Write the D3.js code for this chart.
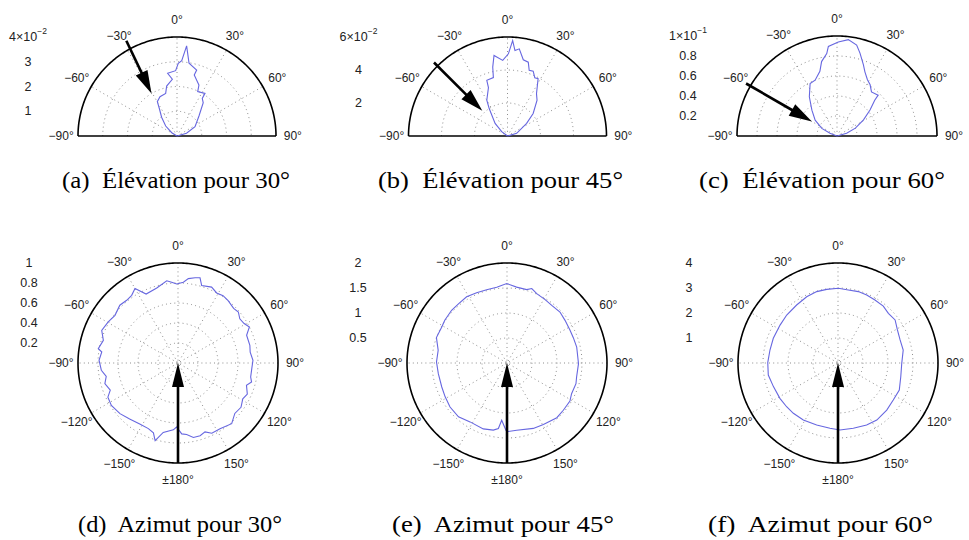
<!DOCTYPE html>
<html><head><meta charset="utf-8">
<script src="https://cdn.jsdelivr.net/npm/d3@7"></script>
<style>body{margin:0;background:#fff}</style>
</head><body>
<svg id="chart" width="969" height="540"></svg>
<script>
// ---------------- DATA ----------------
const captions = ["(a)  Élévation pour 30°", "(b)  Élévation pour 45°", "(c)  Élévation pour 60°",
                  "(d)  Azimut pour 30°", "(e)  Azimut pour 45°", "(f)  Azimut pour 60°"];

// radial tick values (last = rim) and exponents for elevation plots
const ticksA = [1, 2, 3, 4];
const ticksB = [2, 4, 6];
const ticksC = [0.2, 0.4, 0.6, 0.8, 1];
const ticksD = [0.2, 0.4, 0.6, 0.8, 1];
const ticksE = [0.5, 1, 1.5, 2];
const ticksF = [1, 2, 3, 4];
const expA = "−2", expB = "−2", expC = "−1";

const elevAngleTicks = [-90, -60, -30, 0, 30, 60, 90];
const elevAngleLabels = ["−90°", "−60°", "−30°", "0°", "30°", "60°", "90°"];
const azimAngleTicks = [0, 30, 60, 90, 120, 150, 180, -150, -120, -90, -60, -30];
const azimAngleLabels = ["0°", "30°", "60°", "90°", "120°", "150°", "±180°", "−150°", "−120°", "−90°", "−60°", "−30°"];

// incidence arrows (deg)
const elevArrowAngles = [-30, -45, -60];

// (a) elevation 30°  (values ×10^-2)
const aAngles = [-90,-58,-48.5,-39.4,-32.6,-29.8,-23.4,-14.9,-11.7,-4.7,-8.5,-1.2,1,3.6,6.1,9.4,16.6,15.8,23.3,25,33.3,33.9,38.3,47.7,62.7,74,90];
const aValues = [0,0.25,0.61,0.98,1.33,1.60,1.73,1.78,2.06,2.30,2.56,2.64,2.94,3.05,3.66,2.98,2.78,2.56,2.24,1.98,2.06,1.83,1.71,1.20,0.82,0.40,0];
// (b) elevation 45°  (values ×10^-2)
const bAngles = [-90,-53,-44.5,-33.7,-30,-21.5,-20.4,-13.6,-12.1,-9.5,-3.6,0.6,3.1,5,7.7,11.7,15.7,18.3,21.6,25.1,28.1,34.4,39.6,48.7,56.5,73.6,90];
const bValues = [0,0.44,1.07,2.0,2.51,3.15,3.60,3.64,4.27,4.95,4.59,4.98,5.79,5.2,5.33,4.72,4.65,4.19,4.23,3.90,3.94,3.11,2.81,2.07,1.39,0.58,0];
// (c) elevation 60°  (values ×10^-1)
const cAngles = [-90,-69,-63.3,-54,-44.2,-35.2,-27.1,-21.4,-14.8,-11.7,-7.1,-5.5,0.8,6.7,12.2,15.5,20.3,23.5,28.4,32.9,38,45.2,46.5,51.8,58.7,66.8,74.4,90];
const cValues = [0,0.075,0.17,0.27,0.36,0.48,0.59,0.60,0.67,0.76,0.83,0.90,0.94,0.97,0.93,0.86,0.76,0.70,0.64,0.61,0.56,0.58,0.52,0.42,0.31,0.20,0.10,0];
// (d) azimuth 30°
const dAngles = [-178.8,-176,-168,-163.6,-160.6,-155.7,-147.9,-139.2,-131.1,-122.5,-116,-111.9,-105.8,-100.6,-95.4,-88,-81.8,-79.8,-73.1,-66.8,-59.5,-52.9,-45.2,-39.3,-34.4,-30,-24.8,-15.8,-7.8,-4.5,-1,3.8,7,11.3,14.5,17,23.9,28.9,33.8,38.8,45.5,49.8,54.4,59.2,63.2,68,76.2,81.4,88,94.4,100.9,104.5,108,114.2,118.9,125.1,131.6,138.5,147.4,154.3,158.6,163.1,168.3,173.1,177];
const dValues = [0.64,0.67,0.71,0.81,0.74,0.72,0.72,0.74,0.77,0.79,0.78,0.73,0.76,0.73,0.77,0.79,0.77,0.81,0.78,0.83,0.81,0.79,0.82,0.81,0.82,0.86,0.76,0.78,0.83,0.81,0.79,0.81,0.85,0.87,0.88,0.81,0.83,0.80,0.81,0.80,0.78,0.79,0.76,0.77,0.80,0.74,0.74,0.73,0.75,0.74,0.74,0.76,0.72,0.76,0.74,0.77,0.76,0.81,0.78,0.78,0.74,0.76,0.76,0.72,0.71];
// (e) azimuth 45°
const eAngles = [-179.2,-174.7,-172.5,-168.5,-160.2,-147.9,-138,-127.7,-118.7,-110.2,-98.8,-89.2,-79.5,-70.2,-61.1,-55.5,-46.4,-39.4,-31.4,-23.4,-15.5,-7.7,-0.2,7.2,15,18.4,23.2,31,37.8,46.1,53.7,62.6,69.1,77.1,90.5,101.4,106.7,115.4,121.1,130,137.7,149.4,158.1,171.8,178.9];
const eValues = [1.35,1.15,1.32,1.37,1.40,1.39,1.45,1.44,1.41,1.39,1.39,1.41,1.40,1.50,1.49,1.51,1.53,1.53,1.55,1.53,1.52,1.53,1.59,1.53,1.52,1.57,1.51,1.48,1.46,1.47,1.44,1.42,1.42,1.43,1.43,1.42,1.44,1.43,1.47,1.47,1.48,1.43,1.41,1.36,1.37];
// (f) azimuth 60°
const fAngles = [-173,-161,-148.7,-138.4,-130.4,-121.3,-110.1,-99.8,-89.7,-79.2,-69.1,-56.8,-46.9,-35.5,-25.3,-16.6,-8.7,0.3,8,15.9,22.9,30.4,38.5,45.4,53,60.9,69.6,78.7,90.3,102.3,113.8,123.8,134,145.8,155.2,166.8,178.3];
const fValues = [2.63,2.62,2.67,2.69,2.70,2.72,2.75,2.83,2.81,2.77,2.77,2.77,2.81,2.85,2.93,2.98,2.98,2.99,2.95,2.97,2.95,2.92,2.91,2.83,2.86,2.72,2.65,2.66,2.55,2.57,2.68,2.66,2.71,2.76,2.73,2.68,2.68];

// ---------------- LAYOUT ----------------
const panels = [
  {type:"elev", cx:177,   cy:136, R:99,  ticks:ticksA, exp:expA, ang:aAngles, val:aValues, arrow:elevArrowAngles[0], a0:1.09, a1:0.50, da:[2,-1]},
  {type:"elev", cx:507.5, cy:136, R:99,  ticks:ticksB, exp:expB, ang:bAngles, val:bValues, arrow:elevArrowAngles[1], a0:1.05, a1:0.36, da:[0,0]},
  {type:"elev", cx:837,   cy:136, R:100, ticks:ticksC, exp:expC, ang:cAngles, val:cValues, arrow:elevArrowAngles[2], a0:1.05, a1:0.29, da:[0,0]},
  {type:"azim", cx:178,   cy:363, R:100, ticks:ticksD, ang:dAngles, val:dValues},
  {type:"azim", cx:507,   cy:363, R:100, ticks:ticksE, ang:eAngles, val:eValues},
  {type:"azim", cx:838,   cy:363, R:100, ticks:ticksF, ang:fAngles, val:fValues}
];
// caption [left x, baseline y, width]
const captionPos = [[62,188,228],[378,188,245],[699,188,246],[78,532,204],[392,532,222],[708,532,225]];

const svg = d3.select("#chart");
svg.append("rect").attr("width",969).attr("height",540).attr("fill","#fff");
const deg = d3.scaleLinear().domain([-180,180]).range([-Math.PI, Math.PI]);
const CURVE = "#6767e0";
const GRID = "#6a6a6a";

function polar(a, rr){ const t = deg(a); return [rr*Math.sin(t), -rr*Math.cos(t)]; }

function arrow(g, p0, p1, L, W, sw){
  const dx = p1[0]-p0[0], dy = p1[1]-p0[1], len = Math.hypot(dx,dy);
  const ux = dx/len, uy = dy/len, nx = -uy, ny = ux;
  const bx = p1[0]-ux*L, by = p1[1]-uy*L;
  g.append("line").attr("x1",p0[0]).attr("y1",p0[1]).attr("x2",bx+ux*2).attr("y2",by+uy*2)
    .attr("stroke","#000").attr("stroke-width",sw);
  g.append("path").attr("d",`M${p1[0]},${p1[1]}L${bx+nx*W/2},${by+ny*W/2}L${bx-nx*W/2},${by-ny*W/2}Z`).attr("fill","#000");
}

panels.forEach((p, i) => {
  const g = svg.append("g").attr("transform", `translate(${p.cx},${p.cy})`);
  const max = p.ticks[p.ticks.length-1];
  const r = d3.scaleLinear().domain([0, max]).range([0, p.R]);
  const sweep = p.type === "elev" ? d3.range(-90, 90.001, 1) : d3.range(-180, 180.001, 1);
  const ring = d3.lineRadial().angle(a => deg(a));
  const dotted = sel => sel.attr("fill","none").attr("stroke",GRID).attr("stroke-width",0.9)
      .attr("stroke-dasharray","1,3.2").attr("opacity",0.85);

  // rings
  p.ticks.slice(0,-1).forEach(t => {
    g.append("path").attr("d", ring.radius(r(t))(sweep)).call(dotted);
  });
  // spokes
  if (p.type === "elev") {
    [-60,-30,0,30,60].forEach(a => {
      const e = polar(a, p.R);
      g.append("line").attr("x1",0).attr("y1",0).attr("x2",e[0]).attr("y2",e[1]).call(dotted);
    });
  } else {
    [0,30,60,90,120,150].forEach(a => {
      const s = polar(a, p.R), e = polar(a+180, p.R);
      g.append("line").attr("x1",s[0]).attr("y1",s[1]).attr("x2",e[0]).attr("y2",e[1]).call(dotted);
    });
  }
  // rim
  g.append("path").attr("d", ring.radius(p.R)(sweep)).attr("fill","none")
    .attr("stroke","#000").attr("stroke-width",1.6);
  if (p.type === "elev") {
    g.append("line").attr("x1",-p.R).attr("y1",0).attr("x2",p.R).attr("y2",0)
      .attr("stroke","#000").attr("stroke-width",1.6);
  }

  // data curve
  const pts = p.ang.map((a,k) => [a, p.val[k]]);
  const line = d3.lineRadial().angle(d => deg(d[0])).radius(d => r(d[1]))
    .curve(p.type === "azim" ? d3.curveLinearClosed : d3.curveLinear);
  g.append("path").attr("d", line(pts)).attr("fill","none").attr("stroke",CURVE).attr("stroke-width",1.1);

  // angle labels
  const aT = p.type === "elev" ? elevAngleTicks : azimAngleTicks;
  const aL = p.type === "elev" ? elevAngleLabels : azimAngleLabels;
  aT.forEach((a,k) => {
    const pos = polar(a, p.R*1.17);
    g.append("text").attr("x",pos[0]).attr("y",pos[1]).attr("text-anchor","middle")
      .attr("dominant-baseline","central").attr("font-family","'Liberation Sans',Arial,sans-serif")
      .attr("font-size",12).attr("fill","#222").text(aL[k]);
  });

  // radial tick labels (column left of plot)
  p.ticks.forEach((t,k) => {
    const tx = g.append("text").attr("x",-149).attr("y",-r(t)).attr("text-anchor","middle")
      .attr("dominant-baseline","central").attr("font-family","'Liberation Sans',Arial,sans-serif")
      .attr("font-size",12.5).attr("fill","#222");
    if (p.type === "elev" && k === p.ticks.length-1) {
      tx.append("tspan").text(String(t) + "×10");
      tx.append("tspan").attr("dy",-6).attr("font-size",8.5).text(p.exp);
    } else {
      tx.text(String(t));
    }
  });

  // arrows
  if (p.type === "elev") {
    arrow(g, polar(p.arrow + p.da[0], p.R*p.a0), polar(p.arrow + p.da[1], p.R*p.a1), 23, 13, 2.6);
  } else {
    arrow(g, polar(180, p.R), [0,0], 24, 12, 2.6);
  }

  // caption
  svg.append("text").attr("x",captionPos[i][0]).attr("y",captionPos[i][1]).attr("text-anchor","start")
    .attr("font-family","'Liberation Serif','Times New Roman',serif").attr("font-size",22.5)
    .attr("textLength",captionPos[i][2]).attr("lengthAdjust","spacingAndGlyphs")
    .attr("fill","#000").style("white-space","pre").text(captions[i]);
});
</script>
</body></html>
